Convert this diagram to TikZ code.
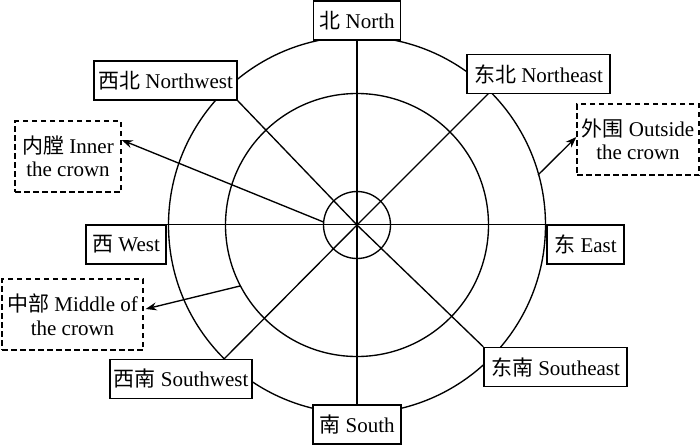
\documentclass[tikz,border=0pt]{standalone}
\usepackage{fontspec}
\setmainfont{Liberation Serif}
\newfontfamily\cjk{Noto Sans CJK SC}
\usetikzlibrary{arrows.meta,backgrounds}
\begin{document}
\begin{tikzpicture}[x=1pt,y=-1pt,
  every node/.style={font=\fontsize{21}{23.5}\selectfont},
  box/.style={draw, fill=white, line width=1.35pt, minimum height=39pt, inner sep=0pt},
  dbox/.style={draw, fill=white, line width=1.35pt, dash pattern=on 5.5pt off 3.5pt, minimum height=71pt, inner sep=0pt, align=center},
  ln/.style={line width=1.35pt},
  arr/.style={ln, -{Stealth[length=11pt,width=8pt]}}]
\useasboundingbox (0,0) rectangle (700,445);
\coordinate (c) at (357,225);
% direction boxes
\node[box, minimum width=87pt] (N) at (357,20.5) {{\cjk 北} North};
\node[box, minimum width=88pt] (S) at (357,424.5) {{\cjk 南} South};
\node[box, minimum width=80pt] (W) at (126,244.5) {{\cjk 西} West};
\node[box, minimum width=77pt] (E) at (585.5,244.5) {{\cjk 东} East};
\node[box, minimum width=143pt] (NW) at (165.5,80.5) {{\cjk 西北} Northwest};
\node[box, minimum width=143pt] (NE) at (538.5,74) {{\cjk 东北} Northeast};
\node[box, minimum width=142pt] (SW) at (181,379) {{\cjk 西南} Southwest};
\node[box, minimum width=143pt] (SE) at (555.5,367) {{\cjk 东南} Southeast};
% region labels
\node[dbox, minimum width=106pt] (Inner) at (68,156.5) {{\cjk 内膛} Inner\\the crown};
\node[dbox, minimum width=122pt] (Outside) at (638,139.5) {{\cjk 外围} Outside\\the crown};
\node[dbox, minimum width=141pt] (Middle) at (72.5,314.5) {{\cjk 中部} Middle of\\the crown};
% helper coordinates
\coordinate (nee) at (491,91);
\coordinate (swe) at (223,360);
\coordinate (ia) at (323.5,222);
\coordinate (ma) at (240,286);
\coordinate (oa) at (538,175);
\begin{scope}[on background layer]
\draw[ln] (c) circle[radius=33.5pt];
\draw[ln] (c) circle[radius=131.5pt];
\draw[ln] (c) circle[radius=188.5pt];
\draw[ln] (N.south) -- (S.north);
\draw[ln] (W.north east) -- (E.north west);
\draw[ln] (c) -- (NW.south east);
\draw[ln] (c) -- (nee);
\draw[ln] (c) -- (swe);
\draw[ln] (c) -- (SE.north west);
\end{scope}
\draw[arr] (ia) -- ([yshift=16.5pt]Inner.east);
\draw[arr] (ma) -- ([yshift=5.5pt,xshift=2pt]Middle.east);
\draw[arr] (oa) -- ([yshift=2.5pt]Outside.west);
\end{tikzpicture}
\end{document}
